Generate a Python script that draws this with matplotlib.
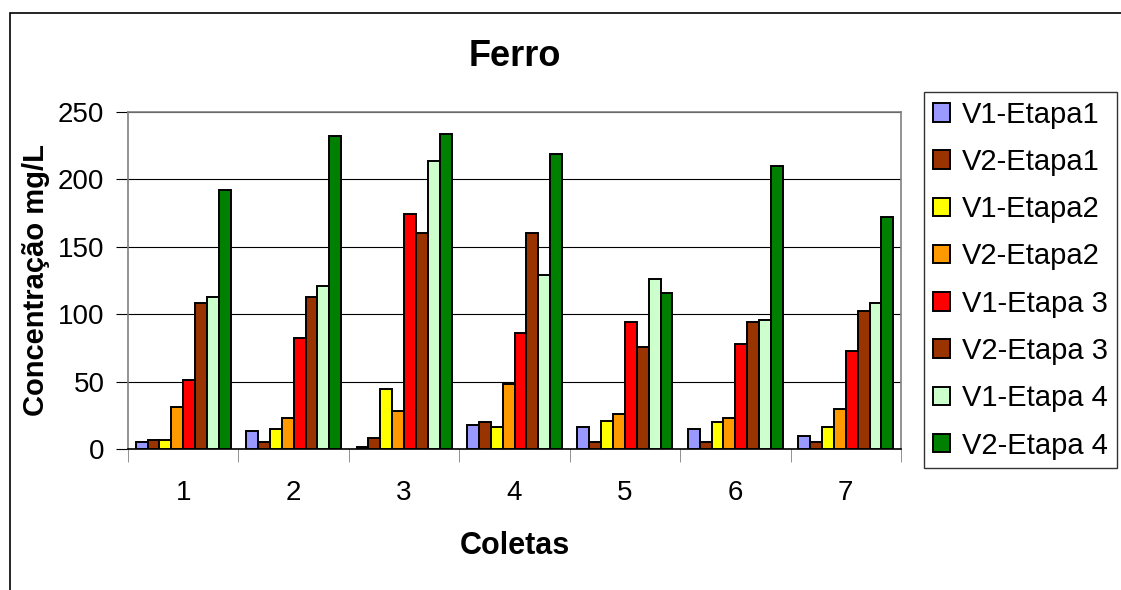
import matplotlib.pyplot as plt
from matplotlib.patches import Rectangle
import numpy as np

plt.rcParams['font.family'] = ['Liberation Sans', 'DejaVu Sans']

# dados
coletas = ["1", "2", "3", "4", "5", "6", "7"]
series = ["V1-Etapa1", "V2-Etapa1", "V1-Etapa2", "V2-Etapa2",
          "V1-Etapa 3", "V2-Etapa 3", "V1-Etapa 4", "V2-Etapa 4"]
v1_etapa1 = [5, 13, 1.5, 18, 16, 15, 10]
v2_etapa1 = [6.5, 5, 8, 20, 5, 5, 5]
v1_etapa2 = [6.5, 15, 44.5, 16, 21, 20, 16]
v2_etapa2 = [31.5, 23, 28, 48, 26, 23, 30]
v1_etapa3 = [51, 82.5, 174, 86, 94.5, 78, 73]
v2_etapa3 = [108, 112.5, 160.5, 160.5, 76, 94.5, 102.5]
v1_etapa4 = [112.5, 121, 213.5, 129, 126, 96, 108]
v2_etapa4 = [192, 232, 233.5, 219, 116, 210, 172]
valores = [v1_etapa1, v2_etapa1, v1_etapa2, v2_etapa2,
           v1_etapa3, v2_etapa3, v1_etapa4, v2_etapa4]
cores = ["#9999FF", "#993300", "#FFFF00", "#FF9900",
         "#FF0000", "#993300", "#CCFFCC", "#008000"]

W, H = 1121, 590
fig = plt.figure(figsize=(W / 100, H / 100), dpi=100)

# moldura externa do gráfico (só esquerda e topo visíveis)
fig.patches.append(Rectangle((10 / W, -0.1), 1.2, (H - 13) / H + 0.1,
                             transform=fig.transFigure, fill=False,
                             edgecolor="black", linewidth=1.2))

left, right, top, bottom = 128, 901, 112, 449
ax = fig.add_axes([left / W, 1 - bottom / H, (right - left) / W, (bottom - top) / H])

x = np.arange(len(coletas))
n = len(series)
largura = 0.86 / n
for i, (nome, vals, cor) in enumerate(zip(series, valores, cores)):
    ax.bar(x - 0.43 + largura * (i + 0.5), vals, largura, color=cor,
           edgecolor="black", linewidth=1.4, label=nome, zorder=3)

ax.set_xlim(-0.5, len(coletas) - 0.5)
ax.set_ylim(0, 250)
ax.set_yticks([0, 50, 100, 150, 200, 250])
ax.yaxis.grid(True, color="black", linewidth=0.8, zorder=0)
ax.set_xticks(x)
ax.set_xticklabels(coletas)
ax.set_xticks(np.arange(-0.5, len(coletas)), minor=True)
ax.tick_params(axis="x", which="major", length=0, pad=22, labelsize=20)
ax.tick_params(axis="x", which="minor", length=9, color="#808080", direction="out")
ax.tick_params(axis="y", length=9, color="black", direction="out", pad=8, labelsize=20)
for s in ax.spines.values():
    s.set_color("#808080")
    s.set_linewidth(1.2)
ax.spines["bottom"].set_color("black")

ax.set_title("Ferro", fontsize=26, fontweight="bold", pad=33)
ax.set_xlabel("Coletas", fontsize=22, fontweight="bold", labelpad=18)
ax.set_ylabel("Concentração mg/L", fontsize=21, fontweight="bold", labelpad=6)

leg = fig.legend(loc="upper left", bbox_to_anchor=(924 / W, 1 - 92 / H),
                 frameon=True, fancybox=False, fontsize=21, handlelength=0.6,
                 handleheight=0.6, handletextpad=0.4, labelspacing=0.66,
                 borderpad=0.3, borderaxespad=0)
leg.get_frame().set_edgecolor("black")
leg.get_frame().set_linewidth(1.0)

fig.savefig("out.png", dpi=100)
